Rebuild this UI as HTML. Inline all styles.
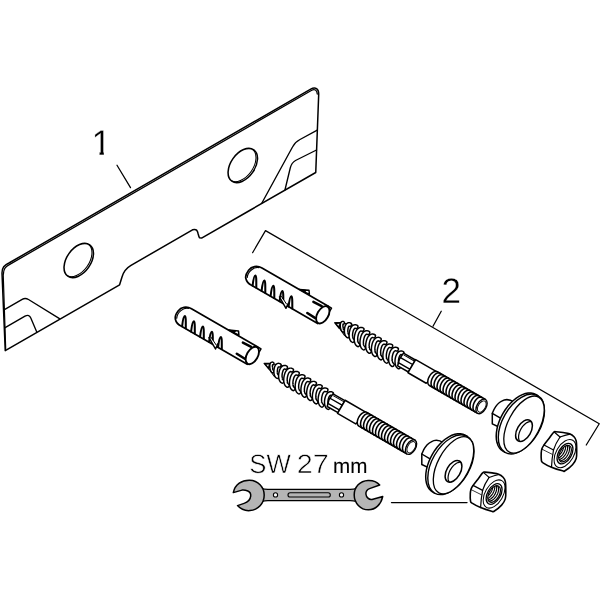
<!DOCTYPE html>
<html><head><meta charset="utf-8"><title>Mounting set</title>
<style>html,body{margin:0;padding:0;background:#fff}svg{display:block}text{font-family:"Liberation Sans",sans-serif;fill:#000;text-rendering:geometricPrecision;-webkit-font-smoothing:antialiased}</style>
</head><body>
<svg width="600" height="600" viewBox="0 0 600 600">
<rect width="600" height="600" fill="#fff"/>
<path d="M2,273 C2.2,267 4,265.5 9,263 L310.7,89.1 C315.5,86.4 318.8,88.8 318.7,94.3 L315.75,172.5 L250.5,210 L201.6,238.1 L199.4,237.7 C198.7,236.3 198.5,235.2 198.2,234 C197.5,230.5 196.5,228.5 192.5,229.8 L131,265.4 C126,268.3 123.6,271.5 122,277 L119.6,284.8 L5.25,350.7 Z" fill="#fff" stroke="#000" stroke-width="1.5" stroke-linejoin="round" stroke-linecap="round" />
<path d="M3.4,274 C3.6,268.8 5.3,266.9 9.75,264.4 L311.3,90.5 C314.6,88.6 317,90 317.3,94" fill="none" stroke="#000" stroke-width="1.3" stroke-linejoin="round" stroke-linecap="round" />
<path d="M3.2,274 L5.7,349" fill="none" stroke="#000" stroke-width="1.2" stroke-linejoin="round" stroke-linecap="round" />
<path d="M4,309.8 L22.2,299.3 C25,297.7 26.5,298.3 28.5,299.5 L59.5,318.6" fill="none" stroke="#000" stroke-width="1.35" stroke-linejoin="round" stroke-linecap="round" />
<path d="M4.7,327.9 L25,316.2 C28,314.5 29.8,315.5 30.8,318 L36.75,332" fill="none" stroke="#000" stroke-width="1.35" stroke-linejoin="round" stroke-linecap="round" />
<path d="M261.75,203.25 L292.5,147 C294.5,143 296.5,141.3 300,139.5 L317.25,130.2" fill="none" stroke="#000" stroke-width="1.35" stroke-linejoin="round" stroke-linecap="round" />
<path d="M285,189.75 L290.25,168 C291.2,164 292.5,162.2 295.5,160.5 L316.5,150" fill="none" stroke="#000" stroke-width="1.35" stroke-linejoin="round" stroke-linecap="round" />
<clipPath id="ph0"><ellipse cx="78.75" cy="260.5" rx="19.1" ry="12" transform="rotate(-55 78.75 260.5)"/></clipPath>
<ellipse cx="78.75" cy="260.5" rx="19.1" ry="12" transform="rotate(-55 78.75 260.5)" fill="#fff" stroke="none"/>
<g clip-path="url(#ph0)"><g transform="translate(-1.5,-0.85)"><ellipse cx="78.75" cy="260.5" rx="19.1" ry="12" transform="rotate(-55 78.75 260.5)" fill="none" stroke="#000" stroke-width="1.1"/></g></g>
<ellipse cx="78.75" cy="260.5" rx="19.1" ry="12" transform="rotate(-55 78.75 260.5)" fill="none" stroke="#000" stroke-width="1.55"/>
<clipPath id="ph1"><ellipse cx="242.8" cy="165.5" rx="19.1" ry="12" transform="rotate(-55 242.8 165.5)"/></clipPath>
<ellipse cx="242.8" cy="165.5" rx="19.1" ry="12" transform="rotate(-55 242.8 165.5)" fill="#fff" stroke="none"/>
<g clip-path="url(#ph1)"><g transform="translate(-1.5,-0.85)"><ellipse cx="242.8" cy="165.5" rx="19.1" ry="12" transform="rotate(-55 242.8 165.5)" fill="none" stroke="#000" stroke-width="1.1"/></g></g>
<ellipse cx="242.8" cy="165.5" rx="19.1" ry="12" transform="rotate(-55 242.8 165.5)" fill="none" stroke="#000" stroke-width="1.55"/>
<path d="M117,165.2 L130.5,187.6" fill="none" stroke="#000" stroke-width="1.25" stroke-linejoin="round" stroke-linecap="round" />
<path d="M441.25,311.25 L433,326.25" fill="none" stroke="#000" stroke-width="1.25" stroke-linejoin="round" stroke-linecap="round" />
<path d="M252.6,252.7 L265.5,230.6 L599.25,423.75 L586.25,445" fill="none" stroke="#000" stroke-width="1.25" stroke-linejoin="round" stroke-linecap="round" />
<path d="M391.5,502.6 L467,502.6" fill="none" stroke="#000" stroke-width="1.4" stroke-linejoin="round" stroke-linecap="round" />
<g style="filter:grayscale(1)">
<clipPath id="c1"><path d="M88,125 H103.8 V157 H99.6 V151.6 H88 Z"/></clipPath><text x="91.5" y="154.9" font-size="35.5" stroke="#fff" stroke-width="0.3" clip-path="url(#c1)">1</text>
<text x="441.5" y="303.3" font-size="35.5" textLength="19.5" lengthAdjust="spacingAndGlyphs" stroke="#fff" stroke-width="0.3">2</text>
<text y="473.0" font-size="26.5" stroke="#fff" stroke-width="0.6"><tspan x="249.3" textLength="41.5" lengthAdjust="spacingAndGlyphs">SW</tspan> <tspan x="296.7" textLength="32" lengthAdjust="spacingAndGlyphs">27</tspan> <tspan x="333" font-size="21" stroke="#000" stroke-width="0.1" textLength="34.4" lengthAdjust="spacingAndGlyphs">mm</tspan></text>
</g>
<g transform="translate(0,0)"><path d="M262,267.95 C257,265.1 251.5,266.3 248.6,270.2 C246.2,273.4 245.2,276 245.8,278.3 C246.5,281.6 248.6,284 251.5,285.3 L317.72,323.59 L327.88,306.01Z" fill="#fff" stroke="#000" stroke-width="1.7" stroke-linejoin="round" stroke-linecap="round" />
<path d="M259,267.6 C254,266.6 247.6,271.5 247.2,277.5" fill="none" stroke="#000" stroke-width="1.2" stroke-linejoin="round" stroke-linecap="round" />
<path d="M327.88,306.01 L331.51,308.11 L329.91,310.88" fill="none" stroke="#000" stroke-width="1.5" stroke-linejoin="round" stroke-linecap="round" />
<ellipse cx="322.8" cy="314.8" rx="9.49" ry="5.48" transform="rotate(-60 322.8 314.8)" fill="#fff" stroke="#000" stroke-width="1.9"/>
<path d="M252.6,285.6 C253.2,280.6 254,275.4 255.3,275.4 C256.5,275.4 256.3,281.6 256.3,287.6" fill="none" stroke="#000" stroke-width="2.05" stroke-linejoin="round" stroke-linecap="round" />
<path d="M261.6,290.8 C262.2,285.8 263,280.6 264.3,280.6 C265.5,280.6 265.3,286.8 265.3,292.8" fill="none" stroke="#000" stroke-width="2.05" stroke-linejoin="round" stroke-linecap="round" />
<path d="M270.6,296 C271.2,291 272,285.8 273.3,285.8 C274.5,285.8 274.3,292 274.3,298" fill="none" stroke="#000" stroke-width="2.05" stroke-linejoin="round" stroke-linecap="round" />
<path d="M279.6,301.2 C280.2,296.2 281,291 282.3,291 C283.5,291 283.3,297.2 283.3,303.2" fill="none" stroke="#000" stroke-width="2.05" stroke-linejoin="round" stroke-linecap="round" />
<path d="M288.6,306.4 C289.2,301.4 290,296.2 291.3,296.2 C292.5,296.2 292.3,302.4 292.3,308.4" fill="none" stroke="#000" stroke-width="2.05" stroke-linejoin="round" stroke-linecap="round" />
<path d="M279.5,297 L286,308.3 L288.3,303.2" fill="#fff" stroke="#000" stroke-width="1.5" stroke-linejoin="round" stroke-linecap="round" />
<path d="M281.5,296.5 L286.5,304" fill="none" stroke="#000" stroke-width="1" stroke-linejoin="round" stroke-linecap="round" />
<path d="M299.5,289.4 L309,290.2 L309.4,294.4 Z" fill="#fff" stroke="#000" stroke-width="1.5" stroke-linejoin="round" stroke-linecap="round" />
<path d="M299.5,289.4 L306,290.4 L305,291.8 Z" fill="#000" stroke="#000" stroke-width="1" stroke-linejoin="round" stroke-linecap="round" />
<path d="M313.4,301.9 L321.7,306.1" fill="none" stroke="#000" stroke-width="2.5" stroke-linejoin="round" stroke-linecap="round" />
<path d="M307.3,313 L315.3,318.1" fill="none" stroke="#000" stroke-width="2.5" stroke-linejoin="round" stroke-linecap="round" /></g>
<g transform="translate(-70.5,40.7)"><path d="M262,267.95 C257,265.1 251.5,266.3 248.6,270.2 C246.2,273.4 245.2,276 245.8,278.3 C246.5,281.6 248.6,284 251.5,285.3 L317.72,323.59 L327.88,306.01Z" fill="#fff" stroke="#000" stroke-width="1.7" stroke-linejoin="round" stroke-linecap="round" />
<path d="M259,267.6 C254,266.6 247.6,271.5 247.2,277.5" fill="none" stroke="#000" stroke-width="1.2" stroke-linejoin="round" stroke-linecap="round" />
<path d="M327.88,306.01 L331.51,308.11 L329.91,310.88" fill="none" stroke="#000" stroke-width="1.5" stroke-linejoin="round" stroke-linecap="round" />
<ellipse cx="322.8" cy="314.8" rx="9.49" ry="5.48" transform="rotate(-60 322.8 314.8)" fill="#fff" stroke="#000" stroke-width="1.9"/>
<path d="M252.6,285.6 C253.2,280.6 254,275.4 255.3,275.4 C256.5,275.4 256.3,281.6 256.3,287.6" fill="none" stroke="#000" stroke-width="2.05" stroke-linejoin="round" stroke-linecap="round" />
<path d="M261.6,290.8 C262.2,285.8 263,280.6 264.3,280.6 C265.5,280.6 265.3,286.8 265.3,292.8" fill="none" stroke="#000" stroke-width="2.05" stroke-linejoin="round" stroke-linecap="round" />
<path d="M270.6,296 C271.2,291 272,285.8 273.3,285.8 C274.5,285.8 274.3,292 274.3,298" fill="none" stroke="#000" stroke-width="2.05" stroke-linejoin="round" stroke-linecap="round" />
<path d="M279.6,301.2 C280.2,296.2 281,291 282.3,291 C283.5,291 283.3,297.2 283.3,303.2" fill="none" stroke="#000" stroke-width="2.05" stroke-linejoin="round" stroke-linecap="round" />
<path d="M288.6,306.4 C289.2,301.4 290,296.2 291.3,296.2 C292.5,296.2 292.3,302.4 292.3,308.4" fill="none" stroke="#000" stroke-width="2.05" stroke-linejoin="round" stroke-linecap="round" />
<path d="M279.5,297 L286,308.3 L288.3,303.2" fill="#fff" stroke="#000" stroke-width="1.5" stroke-linejoin="round" stroke-linecap="round" />
<path d="M281.5,296.5 L286.5,304" fill="none" stroke="#000" stroke-width="1" stroke-linejoin="round" stroke-linecap="round" />
<path d="M299.5,289.4 L309,290.2 L309.4,294.4 Z" fill="#fff" stroke="#000" stroke-width="1.5" stroke-linejoin="round" stroke-linecap="round" />
<path d="M299.5,289.4 L306,290.4 L305,291.8 Z" fill="#000" stroke="#000" stroke-width="1" stroke-linejoin="round" stroke-linecap="round" />
<path d="M313.4,301.9 L321.7,306.1" fill="none" stroke="#000" stroke-width="2.5" stroke-linejoin="round" stroke-linecap="round" />
<path d="M307.3,313 L315.3,318.1" fill="none" stroke="#000" stroke-width="2.5" stroke-linejoin="round" stroke-linecap="round" /></g>
<g transform="translate(335,321.8) rotate(30)"><path d="M1,0.6 L15,-6 L76,-6 L76,7 L15,7Z" fill="#fff" stroke="#000" stroke-width="1" stroke-linejoin="round" stroke-linecap="round" />
<path d="M0,1 L6.2,-2.8 L6.8,3.6Z" fill="#000" stroke="#000" stroke-width="1" stroke-linejoin="round" stroke-linecap="round" />
<path d="M2.6,0.9 L5,-0.5 L5.2,1.9Z" fill="#fff" stroke="#000" stroke-width="0.2" stroke-linejoin="round" stroke-linecap="round" />
<path d="M7.6,-3.2 L7.36,-3.17 L7.16,-3.09 L7,-2.96 L6.89,-2.77 L6.82,-2.54 L6.8,-2.26 L6.83,-1.95 L6.9,-1.6 L7.02,-1.22 L7.19,-0.83 L7.39,-0.42 L7.64,0 L7.92,0.47 L8.22,0.93 L8.55,1.38 L8.9,1.8 L9.26,2.19 L9.63,2.55 L9.99,2.86 L10.35,3.12 L10.7,3.33 L11.02,3.48 L11.33,3.57 L11.6,3.6" fill="none" stroke="#000" stroke-width="4.1" stroke-linejoin="round" stroke-linecap="round" />
<path d="M7.6,-3.2 L7.36,-3.17 L7.16,-3.09 L7,-2.96 L6.89,-2.77 L6.82,-2.54 L6.8,-2.26 L6.83,-1.95 L6.9,-1.6 L7.02,-1.22 L7.19,-0.83 L7.39,-0.42 L7.64,0 L7.92,0.47 L8.22,0.93 L8.55,1.38 L8.9,1.8 L9.26,2.19 L9.63,2.55 L9.99,2.86 L10.35,3.12 L10.7,3.33 L11.02,3.48 L11.33,3.57 L11.6,3.6" fill="none" stroke="#fff" stroke-width="1.2" stroke-linejoin="round" stroke-linecap="round" />
<path d="M14.22,-5 L13.83,-4.96 L13.48,-4.83 L13.18,-4.62 L12.93,-4.33 L12.74,-3.97 L12.6,-3.54 L12.53,-3.04 L12.52,-2.5 L12.58,-1.91 L12.69,-1.29 L12.87,-0.65 L13.1,0 L13.39,0.76 L13.73,1.5 L14.11,2.22 L14.52,2.9 L14.97,3.53 L15.43,4.1 L15.91,4.6 L16.39,5.02 L16.88,5.36 L17.35,5.6 L17.8,5.75 L18.22,5.8" fill="none" stroke="#000" stroke-width="4.9" stroke-linejoin="round" stroke-linecap="round" />
<path d="M14.22,-5 L13.83,-4.96 L13.48,-4.83 L13.18,-4.62 L12.93,-4.33 L12.74,-3.97 L12.6,-3.54 L12.53,-3.04 L12.52,-2.5 L12.58,-1.91 L12.69,-1.29 L12.87,-0.65 L13.1,0 L13.39,0.76 L13.73,1.5 L14.11,2.22 L14.52,2.9 L14.97,3.53 L15.43,4.1 L15.91,4.6 L16.39,5.02 L16.88,5.36 L17.35,5.6 L17.8,5.75 L18.22,5.8" fill="none" stroke="#fff" stroke-width="2" stroke-linejoin="round" stroke-linecap="round" />
<path d="M20.84,-6.3 L20.34,-6.25 L19.89,-6.09 L19.48,-5.82 L19.13,-5.46 L18.85,-5 L18.63,-4.45 L18.49,-3.84 L18.42,-3.15 L18.42,-2.41 L18.5,-1.63 L18.66,-0.82 L18.89,0 L19.18,0.97 L19.54,1.92 L19.95,2.83 L20.42,3.7 L20.92,4.5 L21.46,5.23 L22.02,5.87 L22.6,6.41 L23.18,6.84 L23.75,7.15 L24.31,7.34 L24.84,7.4" fill="none" stroke="#000" stroke-width="4.9" stroke-linejoin="round" stroke-linecap="round" />
<path d="M20.84,-6.3 L20.34,-6.25 L19.89,-6.09 L19.48,-5.82 L19.13,-5.46 L18.85,-5 L18.63,-4.45 L18.49,-3.84 L18.42,-3.15 L18.42,-2.41 L18.5,-1.63 L18.66,-0.82 L18.89,0 L19.18,0.97 L19.54,1.92 L19.95,2.83 L20.42,3.7 L20.92,4.5 L21.46,5.23 L22.02,5.87 L22.6,6.41 L23.18,6.84 L23.75,7.15 L24.31,7.34 L24.84,7.4" fill="none" stroke="#fff" stroke-width="2" stroke-linejoin="round" stroke-linecap="round" />
<path d="M27.46,-7 L26.9,-6.94 L26.38,-6.76 L25.91,-6.47 L25.51,-6.06 L25.17,-5.55 L24.9,-4.95 L24.72,-4.26 L24.61,-3.5 L24.59,-2.68 L24.65,-1.81 L24.79,-0.91 L25.02,0 L25.32,1.1 L25.69,2.17 L26.12,3.21 L26.61,4.2 L27.15,5.11 L27.73,5.94 L28.34,6.66 L28.97,7.27 L29.61,7.76 L30.24,8.11 L30.86,8.33 L31.46,8.4" fill="none" stroke="#000" stroke-width="4.9" stroke-linejoin="round" stroke-linecap="round" />
<path d="M27.46,-7 L26.9,-6.94 L26.38,-6.76 L25.91,-6.47 L25.51,-6.06 L25.17,-5.55 L24.9,-4.95 L24.72,-4.26 L24.61,-3.5 L24.59,-2.68 L24.65,-1.81 L24.79,-0.91 L25.02,0 L25.32,1.1 L25.69,2.17 L26.12,3.21 L26.61,4.2 L27.15,5.11 L27.73,5.94 L28.34,6.66 L28.97,7.27 L29.61,7.76 L30.24,8.11 L30.86,8.33 L31.46,8.4" fill="none" stroke="#fff" stroke-width="2" stroke-linejoin="round" stroke-linecap="round" />
<path d="M34.08,-7 L33.52,-6.94 L33,-6.76 L32.53,-6.47 L32.13,-6.06 L31.79,-5.55 L31.52,-4.95 L31.34,-4.26 L31.23,-3.5 L31.21,-2.68 L31.27,-1.81 L31.41,-0.91 L31.64,0 L31.94,1.1 L32.31,2.17 L32.74,3.21 L33.23,4.2 L33.77,5.11 L34.35,5.94 L34.96,6.66 L35.59,7.27 L36.23,7.76 L36.86,8.11 L37.48,8.33 L38.08,8.4" fill="none" stroke="#000" stroke-width="4.9" stroke-linejoin="round" stroke-linecap="round" />
<path d="M34.08,-7 L33.52,-6.94 L33,-6.76 L32.53,-6.47 L32.13,-6.06 L31.79,-5.55 L31.52,-4.95 L31.34,-4.26 L31.23,-3.5 L31.21,-2.68 L31.27,-1.81 L31.41,-0.91 L31.64,0 L31.94,1.1 L32.31,2.17 L32.74,3.21 L33.23,4.2 L33.77,5.11 L34.35,5.94 L34.96,6.66 L35.59,7.27 L36.23,7.76 L36.86,8.11 L37.48,8.33 L38.08,8.4" fill="none" stroke="#fff" stroke-width="2" stroke-linejoin="round" stroke-linecap="round" />
<path d="M40.7,-7 L40.14,-6.94 L39.62,-6.76 L39.15,-6.47 L38.75,-6.06 L38.41,-5.55 L38.14,-4.95 L37.96,-4.26 L37.85,-3.5 L37.83,-2.68 L37.89,-1.81 L38.03,-0.91 L38.26,0 L38.56,1.1 L38.93,2.17 L39.36,3.21 L39.85,4.2 L40.39,5.11 L40.97,5.94 L41.58,6.66 L42.21,7.27 L42.85,7.76 L43.48,8.11 L44.1,8.33 L44.7,8.4" fill="none" stroke="#000" stroke-width="4.9" stroke-linejoin="round" stroke-linecap="round" />
<path d="M40.7,-7 L40.14,-6.94 L39.62,-6.76 L39.15,-6.47 L38.75,-6.06 L38.41,-5.55 L38.14,-4.95 L37.96,-4.26 L37.85,-3.5 L37.83,-2.68 L37.89,-1.81 L38.03,-0.91 L38.26,0 L38.56,1.1 L38.93,2.17 L39.36,3.21 L39.85,4.2 L40.39,5.11 L40.97,5.94 L41.58,6.66 L42.21,7.27 L42.85,7.76 L43.48,8.11 L44.1,8.33 L44.7,8.4" fill="none" stroke="#fff" stroke-width="2" stroke-linejoin="round" stroke-linecap="round" />
<path d="M47.32,-7 L46.76,-6.94 L46.24,-6.76 L45.77,-6.47 L45.37,-6.06 L45.03,-5.55 L44.76,-4.95 L44.58,-4.26 L44.47,-3.5 L44.45,-2.68 L44.51,-1.81 L44.65,-0.91 L44.88,0 L45.18,1.1 L45.55,2.17 L45.98,3.21 L46.47,4.2 L47.01,5.11 L47.59,5.94 L48.2,6.66 L48.83,7.27 L49.47,7.76 L50.1,8.11 L50.72,8.33 L51.32,8.4" fill="none" stroke="#000" stroke-width="4.9" stroke-linejoin="round" stroke-linecap="round" />
<path d="M47.32,-7 L46.76,-6.94 L46.24,-6.76 L45.77,-6.47 L45.37,-6.06 L45.03,-5.55 L44.76,-4.95 L44.58,-4.26 L44.47,-3.5 L44.45,-2.68 L44.51,-1.81 L44.65,-0.91 L44.88,0 L45.18,1.1 L45.55,2.17 L45.98,3.21 L46.47,4.2 L47.01,5.11 L47.59,5.94 L48.2,6.66 L48.83,7.27 L49.47,7.76 L50.1,8.11 L50.72,8.33 L51.32,8.4" fill="none" stroke="#fff" stroke-width="2" stroke-linejoin="round" stroke-linecap="round" />
<path d="M53.94,-7 L53.38,-6.94 L52.86,-6.76 L52.39,-6.47 L51.99,-6.06 L51.65,-5.55 L51.38,-4.95 L51.2,-4.26 L51.09,-3.5 L51.07,-2.68 L51.13,-1.81 L51.27,-0.91 L51.5,0 L51.8,1.1 L52.17,2.17 L52.6,3.21 L53.09,4.2 L53.63,5.11 L54.21,5.94 L54.82,6.66 L55.45,7.27 L56.09,7.76 L56.72,8.11 L57.34,8.33 L57.94,8.4" fill="none" stroke="#000" stroke-width="4.9" stroke-linejoin="round" stroke-linecap="round" />
<path d="M53.94,-7 L53.38,-6.94 L52.86,-6.76 L52.39,-6.47 L51.99,-6.06 L51.65,-5.55 L51.38,-4.95 L51.2,-4.26 L51.09,-3.5 L51.07,-2.68 L51.13,-1.81 L51.27,-0.91 L51.5,0 L51.8,1.1 L52.17,2.17 L52.6,3.21 L53.09,4.2 L53.63,5.11 L54.21,5.94 L54.82,6.66 L55.45,7.27 L56.09,7.76 L56.72,8.11 L57.34,8.33 L57.94,8.4" fill="none" stroke="#fff" stroke-width="2" stroke-linejoin="round" stroke-linecap="round" />
<path d="M60.56,-7 L60,-6.94 L59.48,-6.76 L59.01,-6.47 L58.61,-6.06 L58.27,-5.55 L58,-4.95 L57.82,-4.26 L57.71,-3.5 L57.69,-2.68 L57.75,-1.81 L57.89,-0.91 L58.12,0 L58.42,1.1 L58.79,2.17 L59.22,3.21 L59.71,4.2 L60.25,5.11 L60.83,5.94 L61.44,6.66 L62.07,7.27 L62.71,7.76 L63.34,8.11 L63.96,8.33 L64.56,8.4" fill="none" stroke="#000" stroke-width="4.9" stroke-linejoin="round" stroke-linecap="round" />
<path d="M60.56,-7 L60,-6.94 L59.48,-6.76 L59.01,-6.47 L58.61,-6.06 L58.27,-5.55 L58,-4.95 L57.82,-4.26 L57.71,-3.5 L57.69,-2.68 L57.75,-1.81 L57.89,-0.91 L58.12,0 L58.42,1.1 L58.79,2.17 L59.22,3.21 L59.71,4.2 L60.25,5.11 L60.83,5.94 L61.44,6.66 L62.07,7.27 L62.71,7.76 L63.34,8.11 L63.96,8.33 L64.56,8.4" fill="none" stroke="#fff" stroke-width="2" stroke-linejoin="round" stroke-linecap="round" />
<path d="M67.18,-7 L66.62,-6.94 L66.1,-6.76 L65.63,-6.47 L65.23,-6.06 L64.89,-5.55 L64.62,-4.95 L64.44,-4.26 L64.33,-3.5 L64.31,-2.68 L64.37,-1.81 L64.51,-0.91 L64.74,0 L65.04,1.1 L65.41,2.17 L65.84,3.21 L66.33,4.2 L66.87,5.11 L67.45,5.94 L68.06,6.66 L68.69,7.27 L69.33,7.76 L69.96,8.11 L70.58,8.33 L71.18,8.4" fill="none" stroke="#000" stroke-width="4.9" stroke-linejoin="round" stroke-linecap="round" />
<path d="M67.18,-7 L66.62,-6.94 L66.1,-6.76 L65.63,-6.47 L65.23,-6.06 L64.89,-5.55 L64.62,-4.95 L64.44,-4.26 L64.33,-3.5 L64.31,-2.68 L64.37,-1.81 L64.51,-0.91 L64.74,0 L65.04,1.1 L65.41,2.17 L65.84,3.21 L66.33,4.2 L66.87,5.11 L67.45,5.94 L68.06,6.66 L68.69,7.27 L69.33,7.76 L69.96,8.11 L70.58,8.33 L71.18,8.4" fill="none" stroke="#fff" stroke-width="2" stroke-linejoin="round" stroke-linecap="round" />
<path d="M73.8,-6.6 L73.3,-6.54 L72.84,-6.38 L72.43,-6.1 L72.08,-5.72 L71.79,-5.24 L71.57,-4.67 L71.42,-4.02 L71.35,-3.3 L71.36,-2.53 L71.44,-1.71 L71.59,-0.86 L71.82,0 L72.11,0.94 L72.47,1.86 L72.89,2.76 L73.35,3.6 L73.86,4.38 L74.4,5.09 L74.96,5.71 L75.54,6.24 L76.12,6.65 L76.7,6.95 L77.26,7.14 L77.8,7.2" fill="none" stroke="#000" stroke-width="4.9" stroke-linejoin="round" stroke-linecap="round" />
<path d="M73.8,-6.6 L73.3,-6.54 L72.84,-6.38 L72.43,-6.1 L72.08,-5.72 L71.79,-5.24 L71.57,-4.67 L71.42,-4.02 L71.35,-3.3 L71.36,-2.53 L71.44,-1.71 L71.59,-0.86 L71.82,0 L72.11,0.94 L72.47,1.86 L72.89,2.76 L73.35,3.6 L73.86,4.38 L74.4,5.09 L74.96,5.71 L75.54,6.24 L76.12,6.65 L76.7,6.95 L77.26,7.14 L77.8,7.2" fill="none" stroke="#fff" stroke-width="2" stroke-linejoin="round" stroke-linecap="round" />
<path d="M75,-7.1 L88.7,-7.1 L88.7,6.75 L76.3,6.75 L74.4,0Z" fill="#fff" stroke="#000" stroke-width="1.5" stroke-linejoin="round" stroke-linecap="round" />
<path d="M76.5,-5.7 L88.2,-5.7" fill="none" stroke="#000" stroke-width="1" stroke-linejoin="round" stroke-linecap="round" />
<path d="M74.6,-1.8 L88.5,-1.8" fill="none" stroke="#000" stroke-width="1.4" stroke-linejoin="round" stroke-linecap="round" />
<path d="M75.3,3.7 L88.9,3.7" fill="none" stroke="#000" stroke-width="1.4" stroke-linejoin="round" stroke-linecap="round" />
<path d="M88.7,-7.6 L115.4,-7.6 L109.7,7.6 L88.7,7.6Z" fill="#fff" stroke="#000" stroke-width="1.5" stroke-linejoin="round" stroke-linecap="round" />
<path d="M113.6,-7.95 L112.8,-7.83 L112.03,-7.47 L111.31,-6.88 L110.65,-6.09 L110.09,-5.11 L109.63,-3.97 L109.29,-2.72 L109.08,-1.38 L109.01,0 L109.08,1.38 L109.29,2.72 L109.63,3.97 L110.09,5.11 L110.65,6.09 L111.31,6.88 L112.03,7.47 L112.8,7.83 L113.6,7.95 L169.2,7.95 L169.2,-7.95Z" fill="#fff" stroke="#000" stroke-width="1.5" stroke-linejoin="round" stroke-linecap="round" />
<path d="M116.56,-7.95 L115.77,-7.83 L115.02,-7.47 L114.33,-6.88 L113.73,-6.09 L113.22,-5.11 L112.84,-3.97 L112.58,-2.72 L112.46,-1.38 L112.47,0 L112.63,1.38 L112.92,2.72 L113.34,3.97 L113.87,5.11 L114.49,6.09 L115.2,6.88 L115.96,7.47 L116.76,7.83 L117.56,7.95" fill="none" stroke="#000" stroke-width="1.55" stroke-linejoin="round" stroke-linecap="round" />
<path d="M120.02,-7.95 L119.23,-7.83 L118.48,-7.47 L117.79,-6.88 L117.19,-6.09 L116.68,-5.11 L116.3,-3.97 L116.04,-2.72 L115.92,-1.38 L115.93,0 L116.09,1.38 L116.38,2.72 L116.8,3.97 L117.33,5.11 L117.95,6.09 L118.66,6.88 L119.42,7.47 L120.22,7.83 L121.02,7.95" fill="none" stroke="#000" stroke-width="1.55" stroke-linejoin="round" stroke-linecap="round" />
<path d="M123.48,-7.95 L122.69,-7.83 L121.94,-7.47 L121.25,-6.88 L120.65,-6.09 L120.14,-5.11 L119.76,-3.97 L119.5,-2.72 L119.38,-1.38 L119.39,0 L119.55,1.38 L119.84,2.72 L120.26,3.97 L120.79,5.11 L121.41,6.09 L122.12,6.88 L122.88,7.47 L123.68,7.83 L124.48,7.95" fill="none" stroke="#000" stroke-width="1.55" stroke-linejoin="round" stroke-linecap="round" />
<path d="M126.94,-7.95 L126.15,-7.83 L125.4,-7.47 L124.71,-6.88 L124.11,-6.09 L123.6,-5.11 L123.22,-3.97 L122.96,-2.72 L122.84,-1.38 L122.85,0 L123.01,1.38 L123.3,2.72 L123.72,3.97 L124.25,5.11 L124.87,6.09 L125.58,6.88 L126.34,7.47 L127.14,7.83 L127.94,7.95" fill="none" stroke="#000" stroke-width="1.55" stroke-linejoin="round" stroke-linecap="round" />
<path d="M130.4,-7.95 L129.61,-7.83 L128.86,-7.47 L128.17,-6.88 L127.57,-6.09 L127.06,-5.11 L126.68,-3.97 L126.42,-2.72 L126.3,-1.38 L126.31,0 L126.47,1.38 L126.76,2.72 L127.18,3.97 L127.71,5.11 L128.33,6.09 L129.04,6.88 L129.8,7.47 L130.6,7.83 L131.4,7.95" fill="none" stroke="#000" stroke-width="1.55" stroke-linejoin="round" stroke-linecap="round" />
<path d="M133.86,-7.95 L133.07,-7.83 L132.32,-7.47 L131.63,-6.88 L131.03,-6.09 L130.52,-5.11 L130.14,-3.97 L129.88,-2.72 L129.76,-1.38 L129.77,0 L129.93,1.38 L130.22,2.72 L130.64,3.97 L131.17,5.11 L131.79,6.09 L132.5,6.88 L133.26,7.47 L134.06,7.83 L134.86,7.95" fill="none" stroke="#000" stroke-width="1.55" stroke-linejoin="round" stroke-linecap="round" />
<path d="M137.32,-7.95 L136.53,-7.83 L135.78,-7.47 L135.09,-6.88 L134.49,-6.09 L133.98,-5.11 L133.6,-3.97 L133.34,-2.72 L133.22,-1.38 L133.23,0 L133.39,1.38 L133.68,2.72 L134.1,3.97 L134.63,5.11 L135.25,6.09 L135.96,6.88 L136.72,7.47 L137.52,7.83 L138.32,7.95" fill="none" stroke="#000" stroke-width="1.55" stroke-linejoin="round" stroke-linecap="round" />
<path d="M140.78,-7.95 L139.99,-7.83 L139.24,-7.47 L138.55,-6.88 L137.95,-6.09 L137.44,-5.11 L137.06,-3.97 L136.8,-2.72 L136.68,-1.38 L136.69,0 L136.85,1.38 L137.14,2.72 L137.56,3.97 L138.09,5.11 L138.71,6.09 L139.42,6.88 L140.18,7.47 L140.98,7.83 L141.78,7.95" fill="none" stroke="#000" stroke-width="1.55" stroke-linejoin="round" stroke-linecap="round" />
<path d="M144.24,-7.95 L143.45,-7.83 L142.7,-7.47 L142.01,-6.88 L141.41,-6.09 L140.9,-5.11 L140.52,-3.97 L140.26,-2.72 L140.14,-1.38 L140.15,0 L140.31,1.38 L140.6,2.72 L141.02,3.97 L141.55,5.11 L142.17,6.09 L142.88,6.88 L143.64,7.47 L144.44,7.83 L145.24,7.95" fill="none" stroke="#000" stroke-width="1.55" stroke-linejoin="round" stroke-linecap="round" />
<path d="M147.7,-7.95 L146.91,-7.83 L146.16,-7.47 L145.47,-6.88 L144.87,-6.09 L144.36,-5.11 L143.98,-3.97 L143.72,-2.72 L143.6,-1.38 L143.61,0 L143.77,1.38 L144.06,2.72 L144.48,3.97 L145.01,5.11 L145.63,6.09 L146.34,6.88 L147.1,7.47 L147.9,7.83 L148.7,7.95" fill="none" stroke="#000" stroke-width="1.55" stroke-linejoin="round" stroke-linecap="round" />
<path d="M151.16,-7.95 L150.37,-7.83 L149.62,-7.47 L148.93,-6.88 L148.33,-6.09 L147.82,-5.11 L147.44,-3.97 L147.18,-2.72 L147.06,-1.38 L147.07,0 L147.23,1.38 L147.52,2.72 L147.94,3.97 L148.47,5.11 L149.09,6.09 L149.8,6.88 L150.56,7.47 L151.36,7.83 L152.16,7.95" fill="none" stroke="#000" stroke-width="1.55" stroke-linejoin="round" stroke-linecap="round" />
<path d="M154.62,-7.95 L153.83,-7.83 L153.08,-7.47 L152.39,-6.88 L151.79,-6.09 L151.28,-5.11 L150.9,-3.97 L150.64,-2.72 L150.52,-1.38 L150.53,0 L150.69,1.38 L150.98,2.72 L151.4,3.97 L151.93,5.11 L152.55,6.09 L153.26,6.88 L154.02,7.47 L154.82,7.83 L155.62,7.95" fill="none" stroke="#000" stroke-width="1.55" stroke-linejoin="round" stroke-linecap="round" />
<path d="M158.08,-7.95 L157.29,-7.83 L156.54,-7.47 L155.85,-6.88 L155.25,-6.09 L154.74,-5.11 L154.36,-3.97 L154.1,-2.72 L153.98,-1.38 L153.99,0 L154.15,1.38 L154.44,2.72 L154.86,3.97 L155.39,5.11 L156.01,6.09 L156.72,6.88 L157.48,7.47 L158.28,7.83 L159.08,7.95" fill="none" stroke="#000" stroke-width="1.55" stroke-linejoin="round" stroke-linecap="round" />
<path d="M161.54,-7.95 L160.75,-7.83 L160,-7.47 L159.31,-6.88 L158.71,-6.09 L158.2,-5.11 L157.82,-3.97 L157.56,-2.72 L157.44,-1.38 L157.45,0 L157.61,1.38 L157.9,2.72 L158.32,3.97 L158.85,5.11 L159.47,6.09 L160.18,6.88 L160.94,7.47 L161.74,7.83 L162.54,7.95" fill="none" stroke="#000" stroke-width="1.55" stroke-linejoin="round" stroke-linecap="round" />
<path d="M165,-7.95 L164.21,-7.83 L163.46,-7.47 L162.77,-6.88 L162.17,-6.09 L161.66,-5.11 L161.28,-3.97 L161.02,-2.72 L160.9,-1.38 L160.91,0 L161.07,1.38 L161.36,2.72 L161.78,3.97 L162.31,5.11 L162.93,6.09 L163.64,6.88 L164.4,7.47 L165.2,7.83 L166,7.95" fill="none" stroke="#000" stroke-width="1.55" stroke-linejoin="round" stroke-linecap="round" />
<ellipse cx="169.2" cy="0" rx="4.59" ry="7.95" fill="#fff" stroke="#000" stroke-width="1.4"/>
<ellipse cx="169.5" cy="0" rx="3.58" ry="6.2" fill="#fff" stroke="#000" stroke-width="0.9"/></g>
<g transform="translate(264.5,362.5) rotate(30)"><path d="M1,0.6 L15,-6 L76,-6 L76,7 L15,7Z" fill="#fff" stroke="#000" stroke-width="1" stroke-linejoin="round" stroke-linecap="round" />
<path d="M0,1 L6.2,-2.8 L6.8,3.6Z" fill="#000" stroke="#000" stroke-width="1" stroke-linejoin="round" stroke-linecap="round" />
<path d="M2.6,0.9 L5,-0.5 L5.2,1.9Z" fill="#fff" stroke="#000" stroke-width="0.2" stroke-linejoin="round" stroke-linecap="round" />
<path d="M7.6,-3.2 L7.36,-3.17 L7.16,-3.09 L7,-2.96 L6.89,-2.77 L6.82,-2.54 L6.8,-2.26 L6.83,-1.95 L6.9,-1.6 L7.02,-1.22 L7.19,-0.83 L7.39,-0.42 L7.64,0 L7.92,0.47 L8.22,0.93 L8.55,1.38 L8.9,1.8 L9.26,2.19 L9.63,2.55 L9.99,2.86 L10.35,3.12 L10.7,3.33 L11.02,3.48 L11.33,3.57 L11.6,3.6" fill="none" stroke="#000" stroke-width="4.1" stroke-linejoin="round" stroke-linecap="round" />
<path d="M7.6,-3.2 L7.36,-3.17 L7.16,-3.09 L7,-2.96 L6.89,-2.77 L6.82,-2.54 L6.8,-2.26 L6.83,-1.95 L6.9,-1.6 L7.02,-1.22 L7.19,-0.83 L7.39,-0.42 L7.64,0 L7.92,0.47 L8.22,0.93 L8.55,1.38 L8.9,1.8 L9.26,2.19 L9.63,2.55 L9.99,2.86 L10.35,3.12 L10.7,3.33 L11.02,3.48 L11.33,3.57 L11.6,3.6" fill="none" stroke="#fff" stroke-width="1.2" stroke-linejoin="round" stroke-linecap="round" />
<path d="M14.22,-5 L13.83,-4.96 L13.48,-4.83 L13.18,-4.62 L12.93,-4.33 L12.74,-3.97 L12.6,-3.54 L12.53,-3.04 L12.52,-2.5 L12.58,-1.91 L12.69,-1.29 L12.87,-0.65 L13.1,0 L13.39,0.76 L13.73,1.5 L14.11,2.22 L14.52,2.9 L14.97,3.53 L15.43,4.1 L15.91,4.6 L16.39,5.02 L16.88,5.36 L17.35,5.6 L17.8,5.75 L18.22,5.8" fill="none" stroke="#000" stroke-width="4.9" stroke-linejoin="round" stroke-linecap="round" />
<path d="M14.22,-5 L13.83,-4.96 L13.48,-4.83 L13.18,-4.62 L12.93,-4.33 L12.74,-3.97 L12.6,-3.54 L12.53,-3.04 L12.52,-2.5 L12.58,-1.91 L12.69,-1.29 L12.87,-0.65 L13.1,0 L13.39,0.76 L13.73,1.5 L14.11,2.22 L14.52,2.9 L14.97,3.53 L15.43,4.1 L15.91,4.6 L16.39,5.02 L16.88,5.36 L17.35,5.6 L17.8,5.75 L18.22,5.8" fill="none" stroke="#fff" stroke-width="2" stroke-linejoin="round" stroke-linecap="round" />
<path d="M20.84,-6.3 L20.34,-6.25 L19.89,-6.09 L19.48,-5.82 L19.13,-5.46 L18.85,-5 L18.63,-4.45 L18.49,-3.84 L18.42,-3.15 L18.42,-2.41 L18.5,-1.63 L18.66,-0.82 L18.89,0 L19.18,0.97 L19.54,1.92 L19.95,2.83 L20.42,3.7 L20.92,4.5 L21.46,5.23 L22.02,5.87 L22.6,6.41 L23.18,6.84 L23.75,7.15 L24.31,7.34 L24.84,7.4" fill="none" stroke="#000" stroke-width="4.9" stroke-linejoin="round" stroke-linecap="round" />
<path d="M20.84,-6.3 L20.34,-6.25 L19.89,-6.09 L19.48,-5.82 L19.13,-5.46 L18.85,-5 L18.63,-4.45 L18.49,-3.84 L18.42,-3.15 L18.42,-2.41 L18.5,-1.63 L18.66,-0.82 L18.89,0 L19.18,0.97 L19.54,1.92 L19.95,2.83 L20.42,3.7 L20.92,4.5 L21.46,5.23 L22.02,5.87 L22.6,6.41 L23.18,6.84 L23.75,7.15 L24.31,7.34 L24.84,7.4" fill="none" stroke="#fff" stroke-width="2" stroke-linejoin="round" stroke-linecap="round" />
<path d="M27.46,-7 L26.9,-6.94 L26.38,-6.76 L25.91,-6.47 L25.51,-6.06 L25.17,-5.55 L24.9,-4.95 L24.72,-4.26 L24.61,-3.5 L24.59,-2.68 L24.65,-1.81 L24.79,-0.91 L25.02,0 L25.32,1.1 L25.69,2.17 L26.12,3.21 L26.61,4.2 L27.15,5.11 L27.73,5.94 L28.34,6.66 L28.97,7.27 L29.61,7.76 L30.24,8.11 L30.86,8.33 L31.46,8.4" fill="none" stroke="#000" stroke-width="4.9" stroke-linejoin="round" stroke-linecap="round" />
<path d="M27.46,-7 L26.9,-6.94 L26.38,-6.76 L25.91,-6.47 L25.51,-6.06 L25.17,-5.55 L24.9,-4.95 L24.72,-4.26 L24.61,-3.5 L24.59,-2.68 L24.65,-1.81 L24.79,-0.91 L25.02,0 L25.32,1.1 L25.69,2.17 L26.12,3.21 L26.61,4.2 L27.15,5.11 L27.73,5.94 L28.34,6.66 L28.97,7.27 L29.61,7.76 L30.24,8.11 L30.86,8.33 L31.46,8.4" fill="none" stroke="#fff" stroke-width="2" stroke-linejoin="round" stroke-linecap="round" />
<path d="M34.08,-7 L33.52,-6.94 L33,-6.76 L32.53,-6.47 L32.13,-6.06 L31.79,-5.55 L31.52,-4.95 L31.34,-4.26 L31.23,-3.5 L31.21,-2.68 L31.27,-1.81 L31.41,-0.91 L31.64,0 L31.94,1.1 L32.31,2.17 L32.74,3.21 L33.23,4.2 L33.77,5.11 L34.35,5.94 L34.96,6.66 L35.59,7.27 L36.23,7.76 L36.86,8.11 L37.48,8.33 L38.08,8.4" fill="none" stroke="#000" stroke-width="4.9" stroke-linejoin="round" stroke-linecap="round" />
<path d="M34.08,-7 L33.52,-6.94 L33,-6.76 L32.53,-6.47 L32.13,-6.06 L31.79,-5.55 L31.52,-4.95 L31.34,-4.26 L31.23,-3.5 L31.21,-2.68 L31.27,-1.81 L31.41,-0.91 L31.64,0 L31.94,1.1 L32.31,2.17 L32.74,3.21 L33.23,4.2 L33.77,5.11 L34.35,5.94 L34.96,6.66 L35.59,7.27 L36.23,7.76 L36.86,8.11 L37.48,8.33 L38.08,8.4" fill="none" stroke="#fff" stroke-width="2" stroke-linejoin="round" stroke-linecap="round" />
<path d="M40.7,-7 L40.14,-6.94 L39.62,-6.76 L39.15,-6.47 L38.75,-6.06 L38.41,-5.55 L38.14,-4.95 L37.96,-4.26 L37.85,-3.5 L37.83,-2.68 L37.89,-1.81 L38.03,-0.91 L38.26,0 L38.56,1.1 L38.93,2.17 L39.36,3.21 L39.85,4.2 L40.39,5.11 L40.97,5.94 L41.58,6.66 L42.21,7.27 L42.85,7.76 L43.48,8.11 L44.1,8.33 L44.7,8.4" fill="none" stroke="#000" stroke-width="4.9" stroke-linejoin="round" stroke-linecap="round" />
<path d="M40.7,-7 L40.14,-6.94 L39.62,-6.76 L39.15,-6.47 L38.75,-6.06 L38.41,-5.55 L38.14,-4.95 L37.96,-4.26 L37.85,-3.5 L37.83,-2.68 L37.89,-1.81 L38.03,-0.91 L38.26,0 L38.56,1.1 L38.93,2.17 L39.36,3.21 L39.85,4.2 L40.39,5.11 L40.97,5.94 L41.58,6.66 L42.21,7.27 L42.85,7.76 L43.48,8.11 L44.1,8.33 L44.7,8.4" fill="none" stroke="#fff" stroke-width="2" stroke-linejoin="round" stroke-linecap="round" />
<path d="M47.32,-7 L46.76,-6.94 L46.24,-6.76 L45.77,-6.47 L45.37,-6.06 L45.03,-5.55 L44.76,-4.95 L44.58,-4.26 L44.47,-3.5 L44.45,-2.68 L44.51,-1.81 L44.65,-0.91 L44.88,0 L45.18,1.1 L45.55,2.17 L45.98,3.21 L46.47,4.2 L47.01,5.11 L47.59,5.94 L48.2,6.66 L48.83,7.27 L49.47,7.76 L50.1,8.11 L50.72,8.33 L51.32,8.4" fill="none" stroke="#000" stroke-width="4.9" stroke-linejoin="round" stroke-linecap="round" />
<path d="M47.32,-7 L46.76,-6.94 L46.24,-6.76 L45.77,-6.47 L45.37,-6.06 L45.03,-5.55 L44.76,-4.95 L44.58,-4.26 L44.47,-3.5 L44.45,-2.68 L44.51,-1.81 L44.65,-0.91 L44.88,0 L45.18,1.1 L45.55,2.17 L45.98,3.21 L46.47,4.2 L47.01,5.11 L47.59,5.94 L48.2,6.66 L48.83,7.27 L49.47,7.76 L50.1,8.11 L50.72,8.33 L51.32,8.4" fill="none" stroke="#fff" stroke-width="2" stroke-linejoin="round" stroke-linecap="round" />
<path d="M53.94,-7 L53.38,-6.94 L52.86,-6.76 L52.39,-6.47 L51.99,-6.06 L51.65,-5.55 L51.38,-4.95 L51.2,-4.26 L51.09,-3.5 L51.07,-2.68 L51.13,-1.81 L51.27,-0.91 L51.5,0 L51.8,1.1 L52.17,2.17 L52.6,3.21 L53.09,4.2 L53.63,5.11 L54.21,5.94 L54.82,6.66 L55.45,7.27 L56.09,7.76 L56.72,8.11 L57.34,8.33 L57.94,8.4" fill="none" stroke="#000" stroke-width="4.9" stroke-linejoin="round" stroke-linecap="round" />
<path d="M53.94,-7 L53.38,-6.94 L52.86,-6.76 L52.39,-6.47 L51.99,-6.06 L51.65,-5.55 L51.38,-4.95 L51.2,-4.26 L51.09,-3.5 L51.07,-2.68 L51.13,-1.81 L51.27,-0.91 L51.5,0 L51.8,1.1 L52.17,2.17 L52.6,3.21 L53.09,4.2 L53.63,5.11 L54.21,5.94 L54.82,6.66 L55.45,7.27 L56.09,7.76 L56.72,8.11 L57.34,8.33 L57.94,8.4" fill="none" stroke="#fff" stroke-width="2" stroke-linejoin="round" stroke-linecap="round" />
<path d="M60.56,-7 L60,-6.94 L59.48,-6.76 L59.01,-6.47 L58.61,-6.06 L58.27,-5.55 L58,-4.95 L57.82,-4.26 L57.71,-3.5 L57.69,-2.68 L57.75,-1.81 L57.89,-0.91 L58.12,0 L58.42,1.1 L58.79,2.17 L59.22,3.21 L59.71,4.2 L60.25,5.11 L60.83,5.94 L61.44,6.66 L62.07,7.27 L62.71,7.76 L63.34,8.11 L63.96,8.33 L64.56,8.4" fill="none" stroke="#000" stroke-width="4.9" stroke-linejoin="round" stroke-linecap="round" />
<path d="M60.56,-7 L60,-6.94 L59.48,-6.76 L59.01,-6.47 L58.61,-6.06 L58.27,-5.55 L58,-4.95 L57.82,-4.26 L57.71,-3.5 L57.69,-2.68 L57.75,-1.81 L57.89,-0.91 L58.12,0 L58.42,1.1 L58.79,2.17 L59.22,3.21 L59.71,4.2 L60.25,5.11 L60.83,5.94 L61.44,6.66 L62.07,7.27 L62.71,7.76 L63.34,8.11 L63.96,8.33 L64.56,8.4" fill="none" stroke="#fff" stroke-width="2" stroke-linejoin="round" stroke-linecap="round" />
<path d="M67.18,-7 L66.62,-6.94 L66.1,-6.76 L65.63,-6.47 L65.23,-6.06 L64.89,-5.55 L64.62,-4.95 L64.44,-4.26 L64.33,-3.5 L64.31,-2.68 L64.37,-1.81 L64.51,-0.91 L64.74,0 L65.04,1.1 L65.41,2.17 L65.84,3.21 L66.33,4.2 L66.87,5.11 L67.45,5.94 L68.06,6.66 L68.69,7.27 L69.33,7.76 L69.96,8.11 L70.58,8.33 L71.18,8.4" fill="none" stroke="#000" stroke-width="4.9" stroke-linejoin="round" stroke-linecap="round" />
<path d="M67.18,-7 L66.62,-6.94 L66.1,-6.76 L65.63,-6.47 L65.23,-6.06 L64.89,-5.55 L64.62,-4.95 L64.44,-4.26 L64.33,-3.5 L64.31,-2.68 L64.37,-1.81 L64.51,-0.91 L64.74,0 L65.04,1.1 L65.41,2.17 L65.84,3.21 L66.33,4.2 L66.87,5.11 L67.45,5.94 L68.06,6.66 L68.69,7.27 L69.33,7.76 L69.96,8.11 L70.58,8.33 L71.18,8.4" fill="none" stroke="#fff" stroke-width="2" stroke-linejoin="round" stroke-linecap="round" />
<path d="M73.8,-6.6 L73.3,-6.54 L72.84,-6.38 L72.43,-6.1 L72.08,-5.72 L71.79,-5.24 L71.57,-4.67 L71.42,-4.02 L71.35,-3.3 L71.36,-2.53 L71.44,-1.71 L71.59,-0.86 L71.82,0 L72.11,0.94 L72.47,1.86 L72.89,2.76 L73.35,3.6 L73.86,4.38 L74.4,5.09 L74.96,5.71 L75.54,6.24 L76.12,6.65 L76.7,6.95 L77.26,7.14 L77.8,7.2" fill="none" stroke="#000" stroke-width="4.9" stroke-linejoin="round" stroke-linecap="round" />
<path d="M73.8,-6.6 L73.3,-6.54 L72.84,-6.38 L72.43,-6.1 L72.08,-5.72 L71.79,-5.24 L71.57,-4.67 L71.42,-4.02 L71.35,-3.3 L71.36,-2.53 L71.44,-1.71 L71.59,-0.86 L71.82,0 L72.11,0.94 L72.47,1.86 L72.89,2.76 L73.35,3.6 L73.86,4.38 L74.4,5.09 L74.96,5.71 L75.54,6.24 L76.12,6.65 L76.7,6.95 L77.26,7.14 L77.8,7.2" fill="none" stroke="#fff" stroke-width="2" stroke-linejoin="round" stroke-linecap="round" />
<path d="M75,-7.1 L88.7,-7.1 L88.7,6.75 L76.3,6.75 L74.4,0Z" fill="#fff" stroke="#000" stroke-width="1.5" stroke-linejoin="round" stroke-linecap="round" />
<path d="M76.5,-5.7 L88.2,-5.7" fill="none" stroke="#000" stroke-width="1" stroke-linejoin="round" stroke-linecap="round" />
<path d="M74.6,-1.8 L88.5,-1.8" fill="none" stroke="#000" stroke-width="1.4" stroke-linejoin="round" stroke-linecap="round" />
<path d="M75.3,3.7 L88.9,3.7" fill="none" stroke="#000" stroke-width="1.4" stroke-linejoin="round" stroke-linecap="round" />
<path d="M88.7,-7.6 L115.4,-7.6 L109.7,7.6 L88.7,7.6Z" fill="#fff" stroke="#000" stroke-width="1.5" stroke-linejoin="round" stroke-linecap="round" />
<path d="M113.6,-7.95 L112.8,-7.83 L112.03,-7.47 L111.31,-6.88 L110.65,-6.09 L110.09,-5.11 L109.63,-3.97 L109.29,-2.72 L109.08,-1.38 L109.01,0 L109.08,1.38 L109.29,2.72 L109.63,3.97 L110.09,5.11 L110.65,6.09 L111.31,6.88 L112.03,7.47 L112.8,7.83 L113.6,7.95 L169.2,7.95 L169.2,-7.95Z" fill="#fff" stroke="#000" stroke-width="1.5" stroke-linejoin="round" stroke-linecap="round" />
<path d="M116.56,-7.95 L115.77,-7.83 L115.02,-7.47 L114.33,-6.88 L113.73,-6.09 L113.22,-5.11 L112.84,-3.97 L112.58,-2.72 L112.46,-1.38 L112.47,0 L112.63,1.38 L112.92,2.72 L113.34,3.97 L113.87,5.11 L114.49,6.09 L115.2,6.88 L115.96,7.47 L116.76,7.83 L117.56,7.95" fill="none" stroke="#000" stroke-width="1.55" stroke-linejoin="round" stroke-linecap="round" />
<path d="M120.02,-7.95 L119.23,-7.83 L118.48,-7.47 L117.79,-6.88 L117.19,-6.09 L116.68,-5.11 L116.3,-3.97 L116.04,-2.72 L115.92,-1.38 L115.93,0 L116.09,1.38 L116.38,2.72 L116.8,3.97 L117.33,5.11 L117.95,6.09 L118.66,6.88 L119.42,7.47 L120.22,7.83 L121.02,7.95" fill="none" stroke="#000" stroke-width="1.55" stroke-linejoin="round" stroke-linecap="round" />
<path d="M123.48,-7.95 L122.69,-7.83 L121.94,-7.47 L121.25,-6.88 L120.65,-6.09 L120.14,-5.11 L119.76,-3.97 L119.5,-2.72 L119.38,-1.38 L119.39,0 L119.55,1.38 L119.84,2.72 L120.26,3.97 L120.79,5.11 L121.41,6.09 L122.12,6.88 L122.88,7.47 L123.68,7.83 L124.48,7.95" fill="none" stroke="#000" stroke-width="1.55" stroke-linejoin="round" stroke-linecap="round" />
<path d="M126.94,-7.95 L126.15,-7.83 L125.4,-7.47 L124.71,-6.88 L124.11,-6.09 L123.6,-5.11 L123.22,-3.97 L122.96,-2.72 L122.84,-1.38 L122.85,0 L123.01,1.38 L123.3,2.72 L123.72,3.97 L124.25,5.11 L124.87,6.09 L125.58,6.88 L126.34,7.47 L127.14,7.83 L127.94,7.95" fill="none" stroke="#000" stroke-width="1.55" stroke-linejoin="round" stroke-linecap="round" />
<path d="M130.4,-7.95 L129.61,-7.83 L128.86,-7.47 L128.17,-6.88 L127.57,-6.09 L127.06,-5.11 L126.68,-3.97 L126.42,-2.72 L126.3,-1.38 L126.31,0 L126.47,1.38 L126.76,2.72 L127.18,3.97 L127.71,5.11 L128.33,6.09 L129.04,6.88 L129.8,7.47 L130.6,7.83 L131.4,7.95" fill="none" stroke="#000" stroke-width="1.55" stroke-linejoin="round" stroke-linecap="round" />
<path d="M133.86,-7.95 L133.07,-7.83 L132.32,-7.47 L131.63,-6.88 L131.03,-6.09 L130.52,-5.11 L130.14,-3.97 L129.88,-2.72 L129.76,-1.38 L129.77,0 L129.93,1.38 L130.22,2.72 L130.64,3.97 L131.17,5.11 L131.79,6.09 L132.5,6.88 L133.26,7.47 L134.06,7.83 L134.86,7.95" fill="none" stroke="#000" stroke-width="1.55" stroke-linejoin="round" stroke-linecap="round" />
<path d="M137.32,-7.95 L136.53,-7.83 L135.78,-7.47 L135.09,-6.88 L134.49,-6.09 L133.98,-5.11 L133.6,-3.97 L133.34,-2.72 L133.22,-1.38 L133.23,0 L133.39,1.38 L133.68,2.72 L134.1,3.97 L134.63,5.11 L135.25,6.09 L135.96,6.88 L136.72,7.47 L137.52,7.83 L138.32,7.95" fill="none" stroke="#000" stroke-width="1.55" stroke-linejoin="round" stroke-linecap="round" />
<path d="M140.78,-7.95 L139.99,-7.83 L139.24,-7.47 L138.55,-6.88 L137.95,-6.09 L137.44,-5.11 L137.06,-3.97 L136.8,-2.72 L136.68,-1.38 L136.69,0 L136.85,1.38 L137.14,2.72 L137.56,3.97 L138.09,5.11 L138.71,6.09 L139.42,6.88 L140.18,7.47 L140.98,7.83 L141.78,7.95" fill="none" stroke="#000" stroke-width="1.55" stroke-linejoin="round" stroke-linecap="round" />
<path d="M144.24,-7.95 L143.45,-7.83 L142.7,-7.47 L142.01,-6.88 L141.41,-6.09 L140.9,-5.11 L140.52,-3.97 L140.26,-2.72 L140.14,-1.38 L140.15,0 L140.31,1.38 L140.6,2.72 L141.02,3.97 L141.55,5.11 L142.17,6.09 L142.88,6.88 L143.64,7.47 L144.44,7.83 L145.24,7.95" fill="none" stroke="#000" stroke-width="1.55" stroke-linejoin="round" stroke-linecap="round" />
<path d="M147.7,-7.95 L146.91,-7.83 L146.16,-7.47 L145.47,-6.88 L144.87,-6.09 L144.36,-5.11 L143.98,-3.97 L143.72,-2.72 L143.6,-1.38 L143.61,0 L143.77,1.38 L144.06,2.72 L144.48,3.97 L145.01,5.11 L145.63,6.09 L146.34,6.88 L147.1,7.47 L147.9,7.83 L148.7,7.95" fill="none" stroke="#000" stroke-width="1.55" stroke-linejoin="round" stroke-linecap="round" />
<path d="M151.16,-7.95 L150.37,-7.83 L149.62,-7.47 L148.93,-6.88 L148.33,-6.09 L147.82,-5.11 L147.44,-3.97 L147.18,-2.72 L147.06,-1.38 L147.07,0 L147.23,1.38 L147.52,2.72 L147.94,3.97 L148.47,5.11 L149.09,6.09 L149.8,6.88 L150.56,7.47 L151.36,7.83 L152.16,7.95" fill="none" stroke="#000" stroke-width="1.55" stroke-linejoin="round" stroke-linecap="round" />
<path d="M154.62,-7.95 L153.83,-7.83 L153.08,-7.47 L152.39,-6.88 L151.79,-6.09 L151.28,-5.11 L150.9,-3.97 L150.64,-2.72 L150.52,-1.38 L150.53,0 L150.69,1.38 L150.98,2.72 L151.4,3.97 L151.93,5.11 L152.55,6.09 L153.26,6.88 L154.02,7.47 L154.82,7.83 L155.62,7.95" fill="none" stroke="#000" stroke-width="1.55" stroke-linejoin="round" stroke-linecap="round" />
<path d="M158.08,-7.95 L157.29,-7.83 L156.54,-7.47 L155.85,-6.88 L155.25,-6.09 L154.74,-5.11 L154.36,-3.97 L154.1,-2.72 L153.98,-1.38 L153.99,0 L154.15,1.38 L154.44,2.72 L154.86,3.97 L155.39,5.11 L156.01,6.09 L156.72,6.88 L157.48,7.47 L158.28,7.83 L159.08,7.95" fill="none" stroke="#000" stroke-width="1.55" stroke-linejoin="round" stroke-linecap="round" />
<path d="M161.54,-7.95 L160.75,-7.83 L160,-7.47 L159.31,-6.88 L158.71,-6.09 L158.2,-5.11 L157.82,-3.97 L157.56,-2.72 L157.44,-1.38 L157.45,0 L157.61,1.38 L157.9,2.72 L158.32,3.97 L158.85,5.11 L159.47,6.09 L160.18,6.88 L160.94,7.47 L161.74,7.83 L162.54,7.95" fill="none" stroke="#000" stroke-width="1.55" stroke-linejoin="round" stroke-linecap="round" />
<path d="M165,-7.95 L164.21,-7.83 L163.46,-7.47 L162.77,-6.88 L162.17,-6.09 L161.66,-5.11 L161.28,-3.97 L161.02,-2.72 L160.9,-1.38 L160.91,0 L161.07,1.38 L161.36,2.72 L161.78,3.97 L162.31,5.11 L162.93,6.09 L163.64,6.88 L164.4,7.47 L165.2,7.83 L166,7.95" fill="none" stroke="#000" stroke-width="1.55" stroke-linejoin="round" stroke-linecap="round" />
<ellipse cx="169.2" cy="0" rx="4.59" ry="7.95" fill="#fff" stroke="#000" stroke-width="1.4"/>
<ellipse cx="169.5" cy="0" rx="3.58" ry="6.2" fill="#fff" stroke="#000" stroke-width="0.9"/></g>
<g transform="translate(0,0)"><path d="M514,402.2 C509.5,399 505,399.2 501.7,401.1 C498,403 495.5,406.5 494.1,409.25 L492.3,413.3 L492.3,423.8 L499.9,427.5 L514,428 Z" fill="#fff" stroke="#000" stroke-width="1.5" stroke-linejoin="round" stroke-linecap="round" />
<path d="M492.3,413.3 L500.5,418.2 L500.2,426" fill="none" stroke="#000" stroke-width="1.4" stroke-linejoin="round" stroke-linecap="round" />
<path d="M535.67,394.48 L533.4,393.49 L530.88,393 L528.17,393.02 L525.31,393.55 L522.34,394.59 L519.32,396.1 L516.3,398.07 L513.34,400.47 L510.47,403.24 L507.76,406.35 L505.25,409.74 L502.97,413.36 L500.98,417.14 L499.3,421.01 L497.96,424.92 L496.99,428.78 L496.4,432.55 L496.2,436.15 L496.4,439.52 L496.99,442.61 L497.96,445.35 L499.3,447.71 L500.98,449.65 L502.97,451.12 L505.05,452.32 L537.75,395.68Z" fill="#fff" stroke="#000" stroke-width="1.5" stroke-linejoin="round" stroke-linecap="round" />
<ellipse cx="521.4" cy="424" rx="32.7" ry="18.88" transform="rotate(-60 521.4 424)" fill="#fff" stroke="#000" stroke-width="1.4"/>
<ellipse cx="524" cy="424.6" rx="31.2" ry="15.8" transform="rotate(-62 524 424.6)" fill="#fff" stroke="#000" stroke-width="1.3"/>
<ellipse cx="524" cy="430.6" rx="11.88" ry="6.86" transform="rotate(-60 524 430.6)" fill="#fff" stroke="#000" stroke-width="1.5"/>
<clipPath id="hc0"><ellipse cx="524" cy="430.6" rx="11.88" ry="6.86" transform="rotate(-60 524 430.6)"/></clipPath>
<g clip-path="url(#hc0)"><path d="M532.88,422.01 L531.61,421.54 L530.16,421.48 L528.58,421.84 L526.94,422.6 L525.31,423.73 L523.73,425.19 L522.28,426.93 L521,428.87 L519.96,430.94 L519.18,433.07 L518.71,435.16 L518.54,437.15 L518.71,438.95 L519.18,440.49 L519.96,441.72 L521,442.59" fill="none" stroke="#000" stroke-width="1.2" stroke-linejoin="round" stroke-linecap="round" /></g></g>
<g transform="translate(-70.5,40.7)"><path d="M514,402.2 C509.5,399 505,399.2 501.7,401.1 C498,403 495.5,406.5 494.1,409.25 L492.3,413.3 L492.3,423.8 L499.9,427.5 L514,428 Z" fill="#fff" stroke="#000" stroke-width="1.5" stroke-linejoin="round" stroke-linecap="round" />
<path d="M492.3,413.3 L500.5,418.2 L500.2,426" fill="none" stroke="#000" stroke-width="1.4" stroke-linejoin="round" stroke-linecap="round" />
<path d="M535.67,394.48 L533.4,393.49 L530.88,393 L528.17,393.02 L525.31,393.55 L522.34,394.59 L519.32,396.1 L516.3,398.07 L513.34,400.47 L510.47,403.24 L507.76,406.35 L505.25,409.74 L502.97,413.36 L500.98,417.14 L499.3,421.01 L497.96,424.92 L496.99,428.78 L496.4,432.55 L496.2,436.15 L496.4,439.52 L496.99,442.61 L497.96,445.35 L499.3,447.71 L500.98,449.65 L502.97,451.12 L505.05,452.32 L537.75,395.68Z" fill="#fff" stroke="#000" stroke-width="1.5" stroke-linejoin="round" stroke-linecap="round" />
<ellipse cx="521.4" cy="424" rx="32.7" ry="18.88" transform="rotate(-60 521.4 424)" fill="#fff" stroke="#000" stroke-width="1.4"/>
<ellipse cx="524" cy="424.6" rx="31.2" ry="15.8" transform="rotate(-62 524 424.6)" fill="#fff" stroke="#000" stroke-width="1.3"/>
<ellipse cx="524" cy="430.6" rx="11.88" ry="6.86" transform="rotate(-60 524 430.6)" fill="#fff" stroke="#000" stroke-width="1.5"/>
<clipPath id="hc70"><ellipse cx="524" cy="430.6" rx="11.88" ry="6.86" transform="rotate(-60 524 430.6)"/></clipPath>
<g clip-path="url(#hc70)"><path d="M532.88,422.01 L531.61,421.54 L530.16,421.48 L528.58,421.84 L526.94,422.6 L525.31,423.73 L523.73,425.19 L522.28,426.93 L521,428.87 L519.96,430.94 L519.18,433.07 L518.71,435.16 L518.54,437.15 L518.71,438.95 L519.18,440.49 L519.96,441.72 L521,442.59" fill="none" stroke="#000" stroke-width="1.2" stroke-linejoin="round" stroke-linecap="round" /></g></g>
<g transform="translate(0,0)"><path d="M553.5,432.5 C554.63,431.37 554.22,431.7 555.8,431.7 C557.38,431.7 560.72,432.15 563,432.5 C565.28,432.85 567.67,433.08 569.5,433.8 C571.33,434.52 572.88,435.6 574,436.8 C575.12,438 575.75,438.8 576.2,441 C576.65,443.2 576.7,447.08 576.7,450 C576.7,452.92 576.9,456.05 576.2,458.5 C575.5,460.95 574.37,462.65 572.5,464.7 C570.63,466.75 566.67,469.78 565,470.8 C563.33,471.82 564.75,471.4 562.5,470.8 C560.25,470.2 554.75,468.53 551.5,467.2 C548.25,465.87 544.68,463.92 543,462.8 C541.32,461.68 541.7,462.13 541.4,460.5 C541.1,458.87 541.1,455 541.2,453 C541.3,451 541.53,449.83 542,448.5 C542.47,447.17 542.83,446.67 544,445 C545.17,443.33 547.42,440.58 549,438.5 C550.58,436.42 552.37,433.63 553.5,432.5Z" fill="#fff" stroke="#000" stroke-width="1.6" stroke-linejoin="round" stroke-linecap="round" />
<path d="M554.5,432.2 L560,437" fill="none" stroke="#000" stroke-width="1.2" stroke-linejoin="round" stroke-linecap="round" />
<path d="M544,445 L553.5,450" fill="none" stroke="#000" stroke-width="1.2" stroke-linejoin="round" stroke-linecap="round" />
<path d="M542,449.2 L552.2,454.3" fill="none" stroke="#000" stroke-width="0.8" stroke-linejoin="round" stroke-linecap="round" />
<path d="M560,437 Q555.5,443.5 553.5,450" fill="none" stroke="#000" stroke-width="1.2" stroke-linejoin="round" stroke-linecap="round" />
<path d="M553.5,450 Q551.8,459 551.5,467.2 L551.5,467.2" fill="none" stroke="#000" stroke-width="1.2" stroke-linejoin="round" stroke-linecap="round" />
<path d="M560,437 Q565,435 570,434.1" fill="none" stroke="#000" stroke-width="1.1" stroke-linejoin="round" stroke-linecap="round" />
<ellipse cx="565" cy="453.6" rx="15.43" ry="8.91" transform="rotate(-60 565 453.6)" fill="none" stroke="#000" stroke-width="1"/>
<ellipse cx="565" cy="453.6" rx="11.27" ry="6.51" transform="rotate(-60 565 453.6)" fill="#fff" stroke="#000" stroke-width="1.3"/>
<ellipse cx="565" cy="453.6" rx="9.06" ry="5.23" transform="rotate(-60 565 453.6)" fill="#fff" stroke="#000" stroke-width="1.2"/>
<clipPath id="nc0"><ellipse cx="565" cy="453.6" rx="9.06" ry="5.23" transform="rotate(-60 565 453.6)"/></clipPath>
<g clip-path="url(#nc0)"><path d="M558.56,460.35 L559.69,460.73 L560.98,460.71 L562.38,460.27 L563.81,459.44 L565.21,458.26 L566.5,456.8 L567.63,455.12 L568.52,453.3 L569.14,451.45 L569.46,449.65 L569.46,447.99 L569.14,446.56 L568.52,445.43 L567.63,444.65" fill="none" stroke="#000" stroke-width="1.15" stroke-linejoin="round" stroke-linecap="round" /><path d="M556.66,459.25 L557.78,459.63 L559.07,459.61 L560.47,459.17 L561.91,458.34 L563.31,457.16 L564.6,455.7 L565.72,454.02 L566.62,452.2 L567.24,450.35 L567.56,448.55 L567.56,446.89 L567.24,445.46 L566.62,444.33 L565.72,443.55" fill="none" stroke="#000" stroke-width="1.15" stroke-linejoin="round" stroke-linecap="round" /><path d="M554.75,458.15 L555.87,458.53 L557.17,458.51 L558.57,458.07 L560,457.24 L561.4,456.06 L562.69,454.6 L563.82,452.92 L564.71,451.1 L565.33,449.25 L565.65,447.45 L565.65,445.79 L565.33,444.36 L564.71,443.23 L563.82,442.45" fill="none" stroke="#000" stroke-width="1.15" stroke-linejoin="round" stroke-linecap="round" /><path d="M552.85,457.05 L553.97,457.43 L555.26,457.41 L556.66,456.97 L558.1,456.14 L559.5,454.96 L560.79,453.5 L561.91,451.82 L562.81,450 L563.43,448.15 L563.75,446.35 L563.75,444.69 L563.43,443.26 L562.81,442.13 L561.91,441.35" fill="none" stroke="#000" stroke-width="1.15" stroke-linejoin="round" stroke-linecap="round" /></g></g>
<g transform="translate(-70.9,40.4)"><path d="M553.5,432.5 C554.63,431.37 554.22,431.7 555.8,431.7 C557.38,431.7 560.72,432.15 563,432.5 C565.28,432.85 567.67,433.08 569.5,433.8 C571.33,434.52 572.88,435.6 574,436.8 C575.12,438 575.75,438.8 576.2,441 C576.65,443.2 576.7,447.08 576.7,450 C576.7,452.92 576.9,456.05 576.2,458.5 C575.5,460.95 574.37,462.65 572.5,464.7 C570.63,466.75 566.67,469.78 565,470.8 C563.33,471.82 564.75,471.4 562.5,470.8 C560.25,470.2 554.75,468.53 551.5,467.2 C548.25,465.87 544.68,463.92 543,462.8 C541.32,461.68 541.7,462.13 541.4,460.5 C541.1,458.87 541.1,455 541.2,453 C541.3,451 541.53,449.83 542,448.5 C542.47,447.17 542.83,446.67 544,445 C545.17,443.33 547.42,440.58 549,438.5 C550.58,436.42 552.37,433.63 553.5,432.5Z" fill="#fff" stroke="#000" stroke-width="1.6" stroke-linejoin="round" stroke-linecap="round" />
<path d="M554.5,432.2 L560,437" fill="none" stroke="#000" stroke-width="1.2" stroke-linejoin="round" stroke-linecap="round" />
<path d="M544,445 L553.5,450" fill="none" stroke="#000" stroke-width="1.2" stroke-linejoin="round" stroke-linecap="round" />
<path d="M542,449.2 L552.2,454.3" fill="none" stroke="#000" stroke-width="0.8" stroke-linejoin="round" stroke-linecap="round" />
<path d="M560,437 Q555.5,443.5 553.5,450" fill="none" stroke="#000" stroke-width="1.2" stroke-linejoin="round" stroke-linecap="round" />
<path d="M553.5,450 Q551.8,459 551.5,467.2 L551.5,467.2" fill="none" stroke="#000" stroke-width="1.2" stroke-linejoin="round" stroke-linecap="round" />
<path d="M560,437 Q565,435 570,434.1" fill="none" stroke="#000" stroke-width="1.1" stroke-linejoin="round" stroke-linecap="round" />
<ellipse cx="565" cy="453.6" rx="15.43" ry="8.91" transform="rotate(-60 565 453.6)" fill="none" stroke="#000" stroke-width="1"/>
<ellipse cx="565" cy="453.6" rx="11.27" ry="6.51" transform="rotate(-60 565 453.6)" fill="#fff" stroke="#000" stroke-width="1.3"/>
<ellipse cx="565" cy="453.6" rx="9.06" ry="5.23" transform="rotate(-60 565 453.6)" fill="#fff" stroke="#000" stroke-width="1.2"/>
<clipPath id="nc709"><ellipse cx="565" cy="453.6" rx="9.06" ry="5.23" transform="rotate(-60 565 453.6)"/></clipPath>
<g clip-path="url(#nc709)"><path d="M558.56,460.35 L559.69,460.73 L560.98,460.71 L562.38,460.27 L563.81,459.44 L565.21,458.26 L566.5,456.8 L567.63,455.12 L568.52,453.3 L569.14,451.45 L569.46,449.65 L569.46,447.99 L569.14,446.56 L568.52,445.43 L567.63,444.65" fill="none" stroke="#000" stroke-width="1.15" stroke-linejoin="round" stroke-linecap="round" /><path d="M556.66,459.25 L557.78,459.63 L559.07,459.61 L560.47,459.17 L561.91,458.34 L563.31,457.16 L564.6,455.7 L565.72,454.02 L566.62,452.2 L567.24,450.35 L567.56,448.55 L567.56,446.89 L567.24,445.46 L566.62,444.33 L565.72,443.55" fill="none" stroke="#000" stroke-width="1.15" stroke-linejoin="round" stroke-linecap="round" /><path d="M554.75,458.15 L555.87,458.53 L557.17,458.51 L558.57,458.07 L560,457.24 L561.4,456.06 L562.69,454.6 L563.82,452.92 L564.71,451.1 L565.33,449.25 L565.65,447.45 L565.65,445.79 L565.33,444.36 L564.71,443.23 L563.82,442.45" fill="none" stroke="#000" stroke-width="1.15" stroke-linejoin="round" stroke-linecap="round" /><path d="M552.85,457.05 L553.97,457.43 L555.26,457.41 L556.66,456.97 L558.1,456.14 L559.5,454.96 L560.79,453.5 L561.91,451.82 L562.81,450 L563.43,448.15 L563.75,446.35 L563.75,444.69 L563.43,443.26 L562.81,442.13 L561.91,441.35" fill="none" stroke="#000" stroke-width="1.15" stroke-linejoin="round" stroke-linecap="round" /></g></g>
<path d="M258,487.6 C262,488.6 264,489.4 268,489.4 L350,489.4 C354,489.4 356,488.6 360,487.6 L360,502.2 C356,501.4 354,500.6 350,500.6 L268,500.6 C264,500.6 262,501.4 258,502.2 Z" fill="#b5b5b5" stroke="#000" stroke-width="1.4" stroke-linejoin="round" stroke-linecap="round" />
<path d="M233.3,492.6 C235,484 242,480 249.7,480.2 C258,480.4 264.2,487 264.2,495 C264.2,503.5 258,510 250,510.6 C245,511 240.5,509 237.5,505.6 L244.1,503.4 C247.8,502.3 250.3,499.5 250.7,496.2 C251,493.6 250,491.9 247.8,491 C245.8,490.2 243.8,489.9 242,490.1 Z" fill="#b5b5b5" stroke="#000" stroke-width="1.5" stroke-linejoin="round" stroke-linecap="round" />
<path d="M379.7,485 C377,481.8 372.5,480.2 368,480.4 C360,480.8 354.2,487 354.2,495 C354.2,503 360.5,509.8 368.5,509.8 C375.5,509.8 381,504.5 382.7,496.6 L372,499.4 C369,500 366.2,497.3 365.9,494 C365.7,491.3 367.2,489.6 369.5,488.6 Z" fill="#b5b5b5" stroke="#000" stroke-width="1.5" stroke-linejoin="round" stroke-linecap="round" />
<circle cx="275.5" cy="494.9" r="2.1" fill="#fff" stroke="#000" stroke-width="1.1"/>
<circle cx="341.5" cy="494.9" r="2.1" fill="#fff" stroke="#000" stroke-width="1.1"/>
<rect x="288" y="492.8" width="42.3" height="4.2" rx="2.1" fill="#b5b5b5" stroke="#000" stroke-width="1.1"/>
</svg>
</body></html>
